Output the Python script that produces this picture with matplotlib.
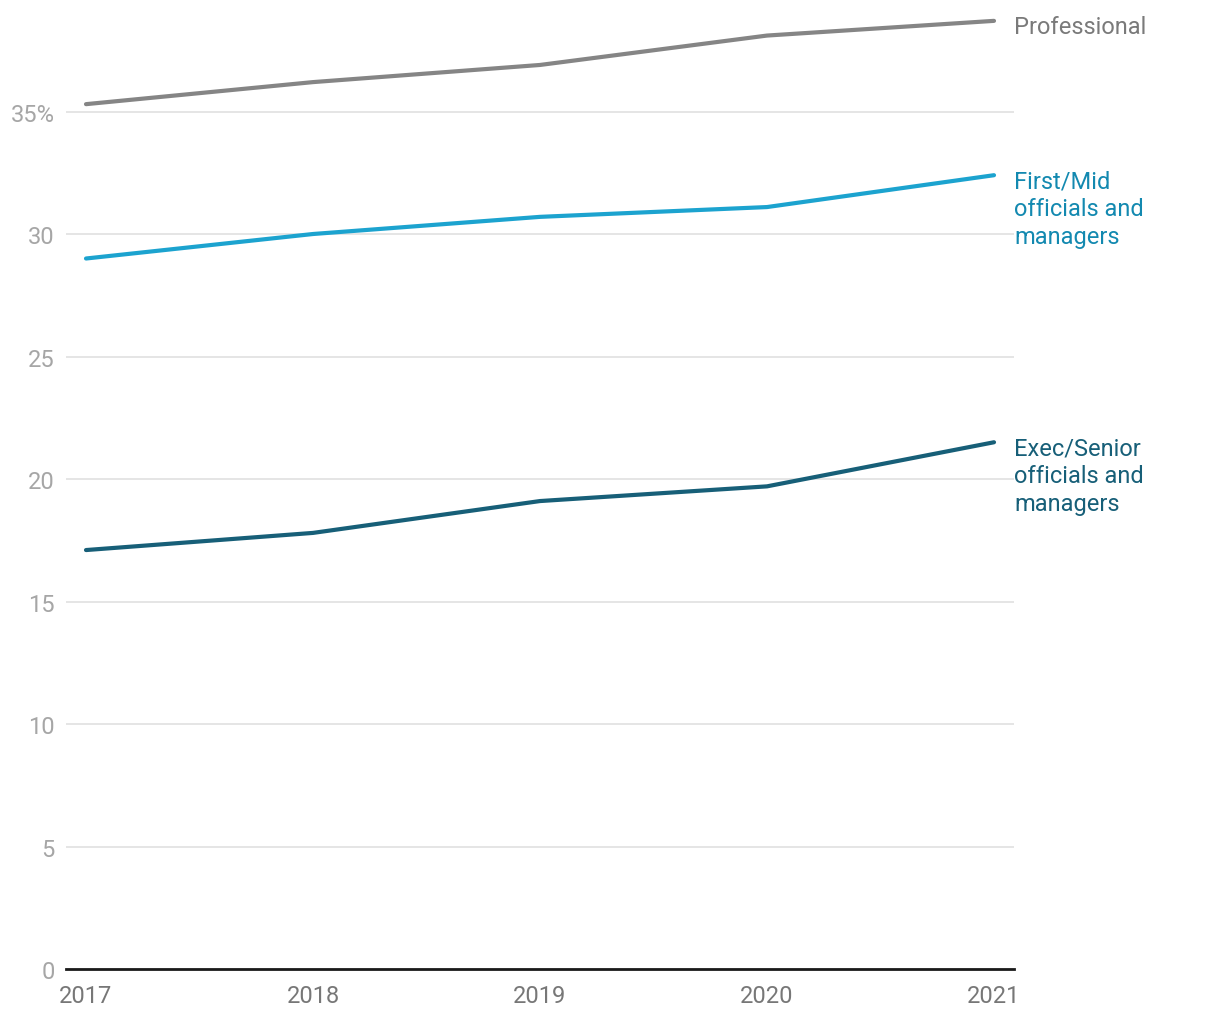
import matplotlib.pyplot as plt

plt.rcParams['font.family'] = ['Roboto', 'DejaVu Sans']

years = [2017, 2018, 2019, 2020, 2021]
professional = [35.3, 36.2, 36.9, 38.1, 38.7]
first_mid = [29.0, 30.0, 30.7, 31.1, 32.4]
exec_senior = [17.1, 17.8, 19.1, 19.7, 21.5]

series = [
    ("Professional", professional, "#858585", "#7a7a7a"),
    ("First/Mid\nofficials and\nmanagers", first_mid, "#1ca3cf", "#1389b0"),
    ("Exec/Senior\nofficials and\nmanagers", exec_senior, "#175f78", "#175f78"),
]

fig = plt.figure(figsize=(12.2, 10.2), dpi=100)
ax = fig.add_axes([66 / 1220, 50 / 1020, 948 / 1220, 955 / 1020])

for label, vals, col, tcol in series:
    ax.plot(years, vals, color=col, lw=3, solid_capstyle='round', zorder=3)
    ax.annotate(label, (years[-1], vals[-1]), xytext=(14.4, 4),
                textcoords='offset points', ha='left', va='top',
                fontsize=17, color=tcol, linespacing=1.25,
                annotation_clip=False)

ax.set_xlim(2016.9119, 2021.0881)
ax.set_ylim(0, 38.98)
ax.set_yticks([0, 5, 10, 15, 20, 25, 30, 35])
ax.set_yticklabels(['0', '5', '10', '15', '20', '25', '30', '35%'])
ax.set_xticks(years)
ax.set_xticklabels([str(y) for y in years])
ax.grid(axis='y', color='#e3e3e3', lw=1.3)
ax.set_axisbelow(True)

for s in ['top', 'right', 'left']:
    ax.spines[s].set_visible(False)
ax.spines['bottom'].set_color('#1a1a1a')
ax.spines['bottom'].set_linewidth(2)
ax.spines['bottom'].set_zorder(4)

ax.tick_params(axis='y', length=0, pad=8, labelsize=17, labelcolor='#a6a6a6')
ax.tick_params(axis='x', length=0, pad=11, labelsize=17, labelcolor='#777777')

fig.savefig('out.png', dpi=100)
